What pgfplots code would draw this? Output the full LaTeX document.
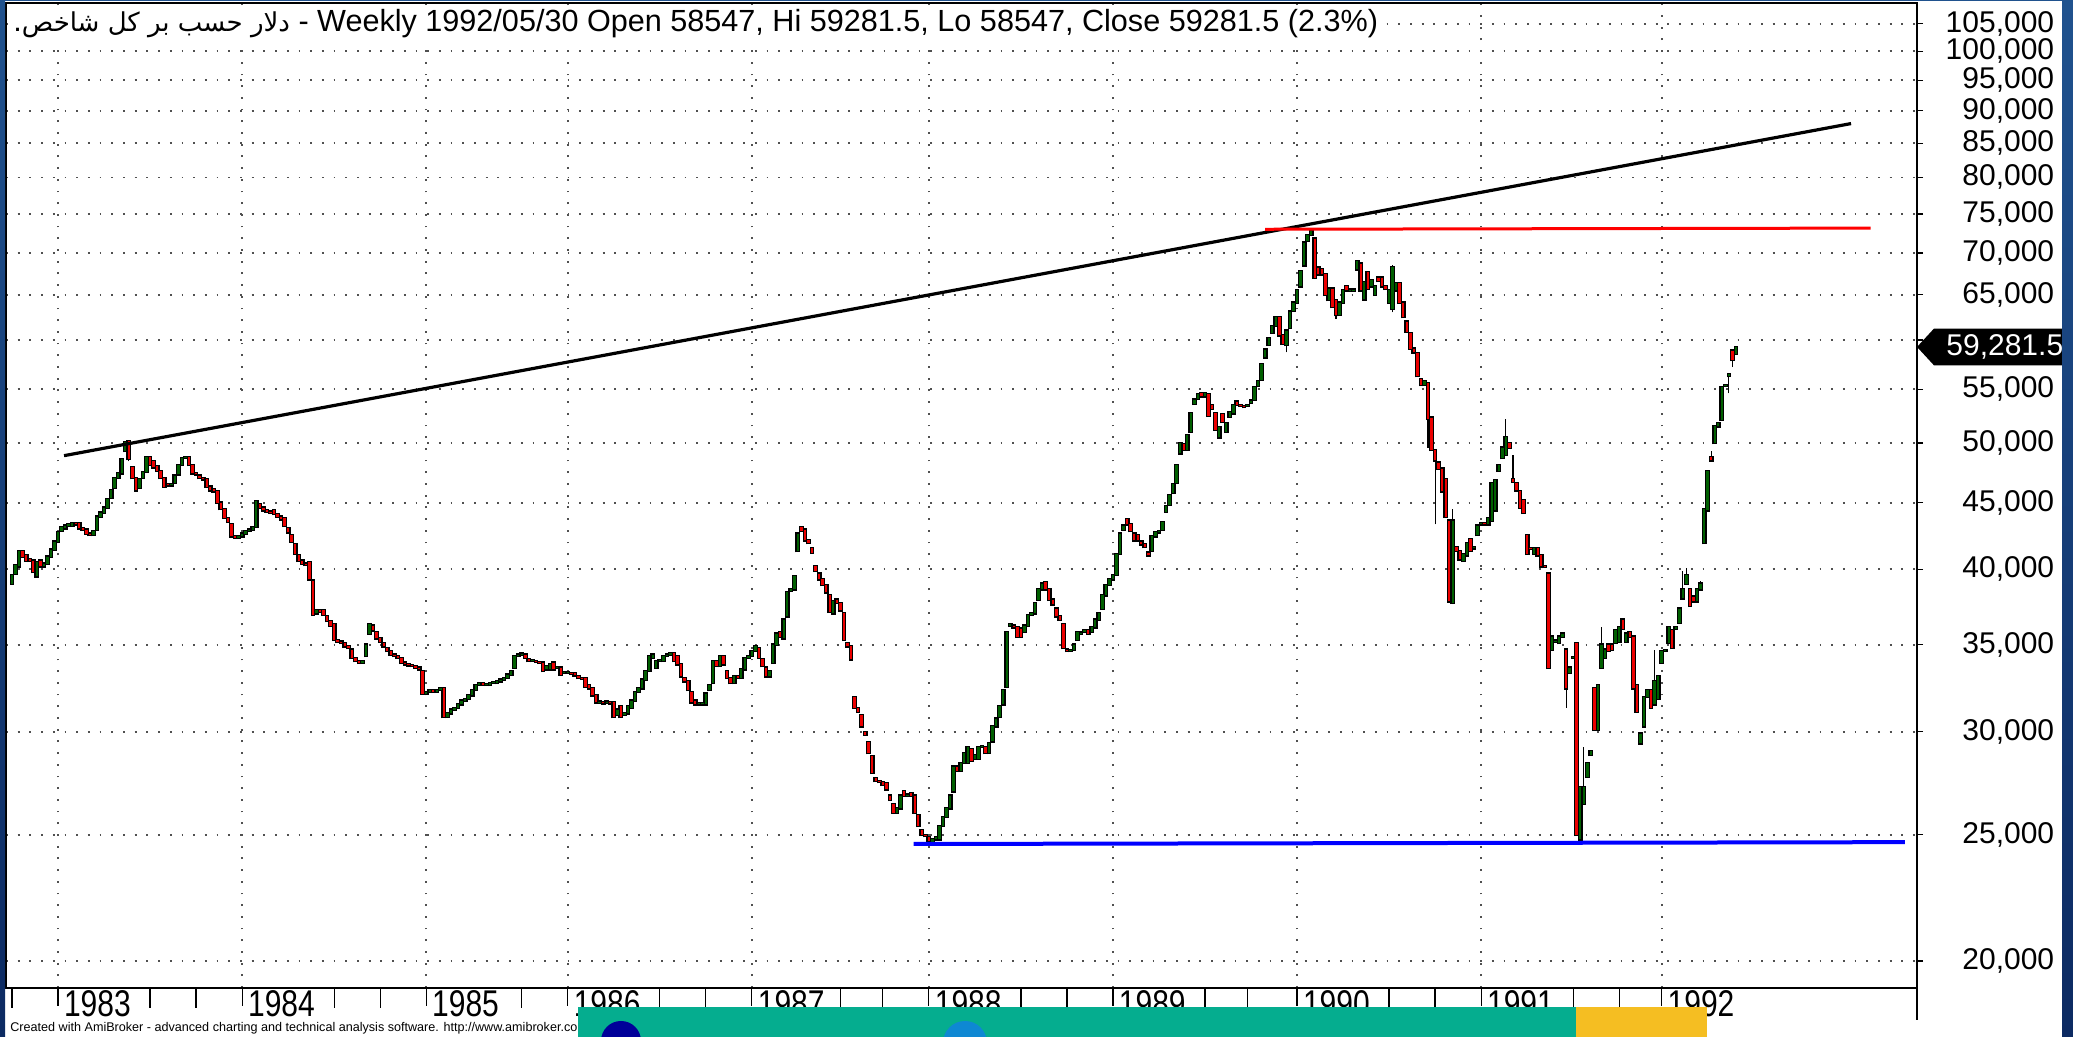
\documentclass[border=0pt]{standalone}
\usepackage{pgfplots}
\pgfplotsset{compat=1.18}
\usepackage{pgfplotstable}
\usepackage{graphicx}
\usepackage{fontspec}
\setmainfont{Liberation Sans}
\newfontfamily\arabicfont[Script=Arabic]{DejaVu Sans}
\TeXXeTstate=1
\definecolor{candlegreen}{RGB}{0,95,0}
\definecolor{candlered}{RGB}{235,0,0}
\definecolor{navytop}{RGB}{32,82,142}
\definecolor{navybot}{RGB}{12,42,98}
\definecolor{bannerteal}{RGB}{5,173,143}
\definecolor{banneryellow}{RGB}{245,190,34}
\definecolor{griddot}{RGB}{80,80,80}
\newcommand{\yr}[1]{\scalebox{1}[1.24]{#1}}

\pgfplotstableread{
i o c
0 39000 39600
1 39700 40300
2 40200 41300
3 41300 40900
4 41000 40600
5 40700 40600
6 40600 39800
7 39500 40500
8 40600 40200
9 40200 40400
10 40400 40900
11 40900 41400
12 41400 42000
13 42000 42700
14 42800 43100
15 43000 43200
16 43200 43300
17 43200 43400
18 43400 43300
19 43400 43000
20 43000 42900
21 42900 42600
22 42600 42500
23 42500 42800
24 42900 43900
25 43900 44200
26 44200 44600
27 44600 45300
28 45400 46000
29 46200 47000
30 47000 47400
31 47400 48600
32 49300 50100
33 50200 48600
34 47900 47000
35 47000 46000
36 46200 46900
37 47000 47500
38 47500 48800
39 48800 48100
40 48400 47900
41 48000 47600
42 47600 47000
43 47000 46300
44 46500 46400
45 46400 46500
46 46600 47200
47 47300 48100
48 48100 48700
49 48700 48800
50 48800 48100
51 48100 47400
52 47400 47300
53 47200 47000
54 47000 46900
55 46900 46300
56 46300 46000
57 46100 45900
58 45900 45000
59 45000 44500
60 44500 43800
61 43800 43500
62 43300 42400
63 42400 42300
64 42300 42400
65 42400 42600
66 42600 42800
67 42800 42900
68 42900 43100
69 43100 45100
70 44900 44600
71 44600 44400
72 44400 44300
73 44300 44200
74 44400 44100
75 44100 43900
76 43900 43700
77 43800 43200
78 43000 42700
79 42500 42000
80 41800 41100
81 41000 40600
82 40600 40400
83 40400 40300
84 40500 39300
85 39200 36900
86 37000 37200
87 37200 37100
88 37200 36900
89 36800 36500
90 36500 36200
91 36300 35300
92 35300 35200
93 35200 35100
94 35100 34900
95 34900 34800
96 34700 34200
97 34200 34000
98 34000 33900
99 33900 34000
100 34300 35000
101 35700 36300
102 36200 35900
103 35800 35400
104 35400 35200
105 35100 34900
106 34800 34600
107 34600 34400
108 34400 34300
109 34300 34200
110 34200 33900
111 33900 33800
112 33800 33750
113 33750 33700
114 33700 33600
115 33600 33500
116 33400 32100
117 32100 32200
118 32200 32300
119 32300 32200
120 32200 32300
121 32300 32400
122 32400 30800
123 30800 31000
124 31000 31200
125 31200 31300
126 31300 31500
127 31500 31700
128 31700 31800
129 31800 32000
130 32000 32300
131 32300 32600
132 32600 32700
133 32700 32600
134 32600 32650
135 32600 32700
136 32700 32750
137 32700 32800
138 32800 32900
139 32900 33000
140 33000 33200
141 33200 33400
142 33600 34300
143 34300 34400
144 34400 34450
145 34400 34200
146 34100 34000
147 34000 34050
148 34000 33950
149 33950 33900
150 33900 33400
151 33500 33700
152 33500 33800
153 33900 33500
154 33600 33650
155 33600 33200
156 33300 33350
157 33300 33350
158 33300 33250
159 33300 33150
160 33100 33000
161 33000 32950
162 33000 32500
163 32600 32400
164 32400 32000
165 32000 31600
166 31600 31650
167 31600 31550
168 31600 31650
169 31600 31550
170 31600 30800
171 30900 31200
172 31400 30800
173 30900 31000
174 31000 31400
175 31300 31700
176 31700 32200
177 32200 32400
178 32400 32900
179 32900 33400
180 33400 34300
181 34200 34400
182 33600 34000
183 34000 34050
184 34000 34300
185 34300 34400
186 34400 34500
187 34500 34000
188 34300 33800
189 33800 33100
190 33000 32800
191 32800 32300
192 32200 31600
193 31700 31500
194 31500 31550
195 31500 31550
196 31500 32100
197 32300 32600
198 32700 34000
199 34000 33700
200 33700 34300
201 34300 33800
202 33400 33000
203 33000 32700
204 32700 33100
205 33100 33000
206 33000 33500
207 33500 34200
208 34200 34300
209 34300 34600
210 34600 34900
211 34800 34200
212 34100 33700
213 33600 33100
214 33100 33400
215 33900 35000
216 35000 35700
217 35800 35500
218 35400 36600
219 36800 38400
220 38500 38600
221 38600 39500
222 41300 42600
223 43100 42800
224 42900 42100
225 42100 41900
226 41500 41200
227 40200 39900
228 39700 39300
229 39300 38900
230 38900 38400
231 38200 37100
232 37000 37800
233 37900 37700
234 37700 37200
235 37000 35300
236 35100 34900
237 34900 34100
238 31900 31300
239 31300 31100
240 30900 30300
241 30000 29850
242 29450 28900
243 28750 27900
244 27650 27500
245 27500 27450
246 27450 27300
247 27400 27100
248 26800 26600
249 26400 26000
250 26000 26200
251 26200 26800
252 27000 26800
253 26800 26850
254 26900 26800
255 26800 26000
256 25900 25400
257 25200 25000
258 25000 24950
259 24900 24750
260 24700 24800
261 24800 24900
262 24800 25400
263 25400 25800
264 25800 26200
265 26200 26800
266 27000 28200
267 28200 28000
268 28000 28400
269 28400 28900
270 28400 29200
271 29100 28500
272 28600 28800
273 28600 29200
274 29200 29250
275 29200 28900
276 28900 29400
277 29500 30300
278 30300 30700
279 30800 31400
280 31500 32300
281 32500 35800
282 36200 36300
283 36200 36100
284 36100 35500
285 36000 35500
286 35800 36200
287 36200 36900
288 36900 37000
289 37000 37700
290 37900 38600
291 38600 39000
292 39100 38600
293 38600 37900
294 37900 37600
295 37300 36800
296 36800 36600
297 36300 34800
298 34700 34600
299 34600 34650
300 34700 35000
301 35300 35800
302 35700 35750
303 35800 35900
304 35900 35700
305 35800 36100
306 36100 36600
307 36600 37000
308 37300 38200
309 38200 38900
310 38900 39300
311 39300 39600
312 39600 41100
313 41100 42600
314 42900 43200
315 43700 43300
316 43300 42800
317 42600 42100
318 42500 42100
319 42000 41800
320 41800 41600
321 41200 41000
322 41300 42400
323 42400 42700
324 42700 42800
325 42900 43500
326 44300 44700
327 44800 45600
328 45800 46500
329 46600 48100
330 49100 50000
331 49900 49400
332 49400 50700
333 51000 52700
334 53600 54000
335 54100 54500
336 54600 54300
337 54300 54600
338 54500 52500
339 53500 53100
340 52700 51200
341 50500 51400
342 52600 51900
343 51000 51800
344 52400 52800
345 52700 53500
346 53800 53500
347 53500 53400
348 53400 53300
349 53400 53500
350 53700 53900
351 54000 55200
352 55300 55800
353 55900 57500
354 58200 59000
355 59500 60200
356 60800 61500
357 61500 62500
358 62500 60500
359 60500 59600
360 59500 61000
361 61300 63100
362 63200 64100
363 64100 65500
364 66000 67800
365 68500 71300
366 71500 72200
367 72300 72800
368 71800 67000
369 68200 67400
370 68000 67400
371 67400 65000
372 64400 65700
373 65700 63600
374 64400 62700
375 62700 64100
376 64100 65500
377 66000 65500
378 65500 65600
379 65500 65600
380 68000 69000
381 68700 65500
382 64500 66500
383 67700 65700
384 66000 66700
385 65000 66000
386 67000 66600
387 67000 66000
388 66000 65700
389 64100 65500
390 63400 68300
391 65500 66400
392 66400 64100
393 64100 62500
394 62000 60900
395 60700 59100
396 59100 58700
397 58600 56300
398 56000 55400
399 55400 55800
400 55600 52200
401 52300 49400
402 49400 48500
403 48300 47800
404 47800 45900
405 46900 43900
406 43600 37800
407 37700 43600
408 41600 41300
409 41300 40700
410 40600 41100
411 41000 41900
412 42200 41300
413 41500 41600
414 42500 43200
415 43300 43400
416 43400 43300
417 43300 43800
418 43600 46600
419 44400 46800
420 47600 48100
421 48700 49600
422 49000 50500
423 50000 49600
424 46900 46700
425 46600 46000
426 45900 44600
427 45200 44200
428 42500 41100
429 41500 41450
430 41100 41500
431 41500 41000
432 41000 40200
433 40200 40150
434 39700 33600
435 34700 35500
436 35200 35250
437 35100 35500
438 35500 35700
439 34700 32400
440 33300 33600
441 34200 34250
442 35100 25000
443 24800 27200
444 26400 27200
445 27700 28400
446 28800 29000
447 32400 30100
448 30100 32600
449 33600 35000
450 34200 34700
451 35000 34600
452 35000 34700
453 35100 35900
454 35200 36100
455 36600 36000
456 35200 35700
457 35800 35500
458 35500 32400
459 32600 31100
460 29400 29900
461 30300 31900
462 31900 32300
463 32300 31300
464 31500 32800
465 31800 33100
466 33900 34600
467 34600 34650
468 35100 36100
469 35900 34800
470 36000 36100
471 36400 37300
472 38000 38600
473 39000 39600
474 38600 37500
475 38100 37800
476 37800 38600
477 38600 39000
478 41900 44500
479 44400 47600
480 48800 48500
481 50000 51500
482 51500 51800
483 52100 55200
484 55300 55400
485 56300 56500
486 58900 57900
487 58547 59281.5
}\candles

\pgfplotstableread{
i l h
33 48400 50300
259 24650 24900
360 58700 61000
367 72300 73200
374 62300 64400
390 63000 68500
400 49600 55600
402 43300 49400
407 37600 44500
422 49000 52200
424 46700 49000
439 31300 34700
443 24600 27200
444 26400 29200
449 33600 36100
455 36000 36600
464 31500 34700
472 38000 39900
473 39000 40100
477 38600 39200
480 48500 49300
485 54600 56500
486 57200 58900
}\wicks

\begin{document}
\begin{tikzpicture}[x=1pt,y=1pt]
\useasboundingbox (0,0) rectangle (1036.5,518.5);
\fill[white] (0,0) rectangle (1036.5,518.5);
\begin{axis}[
  at={(3pt,24.5pt)}, anchor=south west,
  scale only axis, width=955.5pt, height=492.5pt,
  ymode=log, xmin=-1.695, xmax=538.14, ymin=19072, ymax=108940,
  axis line style={black, line width=0.7pt},
  tick align=outside,
  xtick pos=left, ytick pos=right,
  xticklabel pos=left, yticklabel pos=right,
  xtick={13,65,117,157,209,259,311,363,415,466},
  xticklabels={\yr{1983},\yr{1984},\yr{1985},\yr{1986},\yr{1987},\yr{1988},\yr{1989},\yr{1990},\yr{1991},\yr{1992}},
  minor xtick={0,39,52,91,104,144,183,196,234,246,285,298,337,349,389,402,441,454},
  ytick={20000,25000,30000,35000,40000,45000,50000,55000,60000,65000,70000,75000,80000,85000,90000,95000,100000,105000},
  yticklabels={{20,000},{25,000},{30,000},{35,000},{40,000},{45,000},{50,000},{55,000},{},{65,000},{70,000},{75,000},{80,000},{85,000},{90,000},{95,000},{100,000},{105,000}},
  yminorticks=false,
  xmajorgrids, ymajorgrids,
  major grid style={griddot, line width=0.9pt, dash pattern=on 0.9pt off 4.95pt},
  xtick style={black, line width=0.6pt, /pgfplots/major tick length=9pt, /pgfplots/minor tick length=10pt},
  ytick style={black, line width=0.6pt, /pgfplots/major tick length=3pt},
  ticklabel style={font=\fontsize{15}{15}\selectfont},
  xticklabel style={anchor=north west, inner sep=0pt, xshift=2.8pt, yshift=3pt},
  yticklabel style={anchor=east, inner sep=0pt, xshift=64.5pt},
]
% wicks
\addplot[draw=none, mark=none, error bars/.cd, y dir=plus, y explicit, error mark=none,
  error bar style={draw=black, line width=0.55pt}]
  table[x=i, y=l, y error plus expr={\thisrow{h}-\thisrow{l}}] {\wicks};
% body outlines
\addplot[draw=none, mark=none, error bars/.cd, y dir=plus, y explicit, error mark=none,
  error bar style={draw=black, line width=2.4pt, shorten <=-0.65pt, shorten >=-0.65pt}]
  table[x=i, y expr={min(\thisrow{o},\thisrow{c})}, y error plus expr={abs(\thisrow{c}-\thisrow{o})}] {\candles};
% up bodies
\addplot[draw=none, mark=none, error bars/.cd, y dir=plus, y explicit, error mark=none,
  error bar style={draw=candlegreen, line width=1.2pt}]
  table[x=i, y expr={\thisrow{c}>\thisrow{o} ? \thisrow{o} : nan}, y error plus expr={\thisrow{c}-\thisrow{o}}] {\candles};
% down bodies
\addplot[draw=none, mark=none, error bars/.cd, y dir=plus, y explicit, error mark=none,
  error bar style={draw=candlered, line width=1.2pt}]
  table[x=i, y expr={\thisrow{c}<\thisrow{o} ? \thisrow{c} : nan}, y error plus expr={\thisrow{o}-\thisrow{c}}] {\candles};
% trend lines
\addplot[black, line width=1.6pt] coordinates {(14.7,48900) (519.5,88000)};
\addplot[red, line width=1.5pt] coordinates {(354,73000) (525,73150)};
\addplot[blue, line width=2pt] coordinates {(254.7,24600) (534.7,24680)};
\coordinate (tag) at (axis cs:538.14,59281.5);
\end{axis}
% price tag
\fill[black] (tag) -- ++(8.5,9.2) -- ++(90,0) -- ++(0,-18.4) -- ++(-90,0) -- cycle;
\node[white, anchor=west, inner sep=0pt, font=\fontsize{15}{15}\selectfont] at ([xshift=14.5pt]tag) {59,281.5};
% axis extension below x strip
\draw[black, line width=0.7pt] (958.5,24.5) -- (958.5,8.5);
% title
\node[anchor=base west, fill=white, inner xsep=1pt, inner ysep=2pt, font=\fontsize{15.3}{16}\selectfont] at (5.5,502.5)
  {.{\arabicfont\fontsize{13}{16}\selectfont\beginR دلار حسب بر کل شاخص\endR} - Weekly 1992/05/30 Open 58547, Hi 59281.5, Lo 58547, Close 59281.5 (2.3\%)};
% footer text
\node[anchor=base west, inner sep=0pt, font=\fontsize{6.3}{7}\selectfont] at (5,2.6)
  {Created with AmiBroker - advanced charting and technical analysis software. http://www.amibroker.com};
% overlay banner
\fill[bannerteal] (288.85,0) rectangle (788,15);
\fill[banneryellow] (788,0) rectangle (853.5,15);
\begin{scope}
\clip (288.85,0) rectangle (788,15);
\fill[blue!60!black] (310.5,-2) circle (10);
\fill[cyan!70!blue] (482.5,-3) circle (11);
\end{scope}
% navy frame
\shade[top color=navytop, bottom color=navybot] (0,0) rectangle (2.6,518.5);
\shade[top color=navytop, bottom color=navybot] (1031,0) rectangle (1036.5,518.5);
\fill[navytop] (0,517.8) rectangle (1036.5,518.5);
\end{tikzpicture}
\end{document}
